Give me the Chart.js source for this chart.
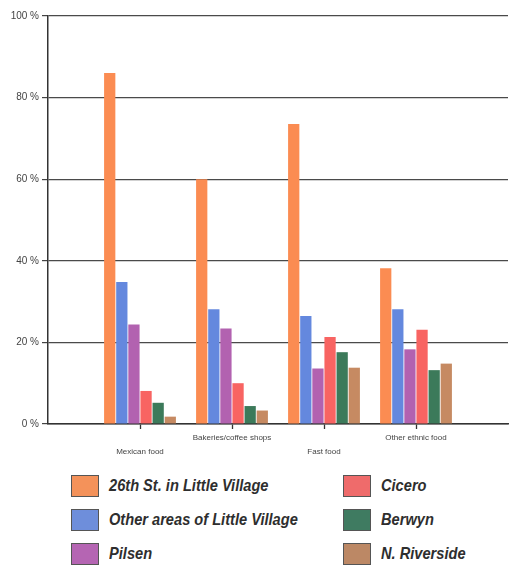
<!DOCTYPE html>
<html>
<head>
<meta charset="utf-8">
<script src="https://cdn.jsdelivr.net/npm/chart.js@4"></script>
<style>
  html, body { margin: 0; padding: 0; background: #fff; }
  #wrap { position: absolute; left: 0; top: 0; width: 509px; height: 470px; }
  #legend { position: absolute; left: 71px; top: 475px; width: 438px;
    display: grid; grid-template-columns: 272px 160px;
    grid-auto-flow: column; grid-template-rows: 34px 34px 33px; }
  .item { display: flex; align-items: flex-start; }
  .sw { width: 28px; height: 22px; border: 1px solid #555; box-sizing: border-box; flex: none; }
  .lab { margin-left: 10px; font-family: "Liberation Sans", Arial, sans-serif;
    font-weight: bold; font-style: italic; font-size: 17px; line-height: 22px; color: #2e2e2e; white-space: nowrap;
    transform: scaleX(0.86); transform-origin: left center; }
</style>
</head>
<body>
<div id="wrap"><canvas id="c"></canvas></div>
<div id="legend"></div>
<script>
// Categories (blank slots at both ends give the chart's left/right margin)
const categories = ['', ['', 'Mexican food'], 'Bakeries/coffee shops', ['', 'Fast food'], 'Other ethnic food', ''];
const seriesNames = ['26th St. in Little Village', 'Other areas of Little Village', 'Pilsen', 'Cicero', 'Berwyn', 'N. Riverside'];
const street26 = [null, 86, 60, 73.5, 38.2, null];
const otherLV  = [null, 34.8, 28.1, 26.5, 28.1, null];
const pilsen   = [null, 24.4, 23.4, 13.6, 18.3, null];
const cicero   = [null, 8.1, 10, 21.3, 23.1, null];
const berwyn   = [null, 5.2, 4.4, 17.6, 13.2, null];
const nRiver   = [null, 1.8, 3.3, 13.8, 14.8, null];
const yTickValues = [0, 20, 40, 60, 80, 100];
const yTickSuffix = ' %';

const barColors = ['#FB8C52', '#6488DE', '#B262B0', '#F86462', '#3C7A5A', '#C68A62'];
const swatchColors = ['#F4925A', '#6E8EDB', '#B565B3', '#EF6B6B', '#3F7B61', '#BC8865'];
const seriesData = [street26, otherLV, pilsen, cicero, berwyn, nRiver];

const datasets = seriesNames.map((n, i) => ({
  label: n, data: seriesData[i], backgroundColor: barColors[i], borderWidth: 0,
  barPercentage: 0.93, categoryPercentage: 0.79
}));

const chart = new Chart(document.getElementById('c'), {
  type: 'bar',
  data: { labels: categories, datasets },
  options: {
    responsive: true, maintainAspectRatio: false, animation: false,
    layout: { padding: { top: 16, right: 0, left: 0, bottom: 0 } },
    plugins: { legend: { display: false }, tooltip: { enabled: false } },
    scales: {
      x: {
        offset: false,
        afterFit: s => { s.height = 46; },
        grid: { display: true, offset: false, drawOnChartArea: false, drawTicks: true, tickLength: 5,
          tickColor: ctx => (ctx.index === 0 || ctx.index === categories.length - 1) ? 'rgba(0,0,0,0)' : '#333',
          tickWidth: 1.3 },
        border: { display: true, color: '#333', width: 1.5 },
        ticks: { autoSkip: false, maxRotation: 0, minRotation: 0, padding: 1,
          color: '#444', font: { family: 'Liberation Sans, Arial, sans-serif', size: 8, lineHeight: 1.85 } }
      },
      y: {
        min: 0, max: 100,
        afterFit: s => { s.width = 48; },
        afterBuildTicks: s => { s.ticks = yTickValues.map(v => ({ value: v })); },
        grid: { color: '#4a4a4a', lineWidth: 1.2, drawTicks: true, tickLength: 6, tickColor: '#444' },
        border: { display: true, color: '#333', width: 1.5 },
        ticks: { padding: 3, color: '#444', callback: v => v + yTickSuffix,
          font: { family: 'Liberation Sans, Arial, sans-serif', size: 10 } }
      }
    }
  }
});

// HTML legend built from the chart's datasets (two columns of three)
const leg = document.getElementById('legend');
chart.data.datasets.forEach((ds, i) => {
  const it = document.createElement('div'); it.className = 'item';
  const sw = document.createElement('div'); sw.className = 'sw'; sw.style.background = swatchColors[i];
  const lb = document.createElement('div'); lb.className = 'lab'; lb.textContent = ds.label;
  it.appendChild(sw); it.appendChild(lb); leg.appendChild(it);
});
</script>
</body>
</html>
